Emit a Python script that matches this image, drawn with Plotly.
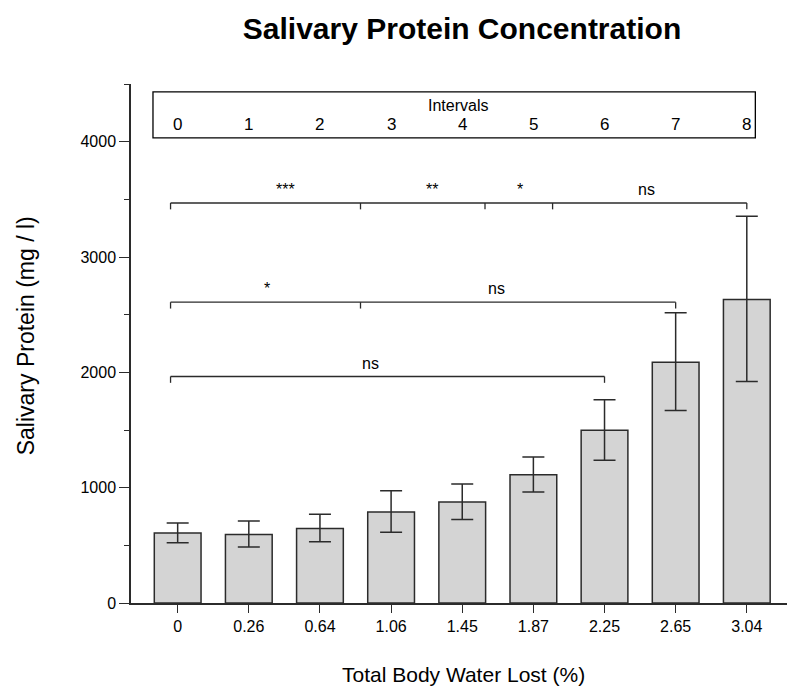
import plotly.graph_objects as go

# Total body water lost (%) at each sampling interval
tbw_lost = ["0", "0.26", "0.64", "1.06", "1.45", "1.87", "2.25", "2.65", "3.04"]
intervals = ["0", "1", "2", "3", "4", "5", "6", "7", "8"]

# Salivary protein (mg / l): mean with lower / upper error limits
protein_mean = [607, 595, 645, 789, 875, 1113, 1497, 2088, 2631]
protein_upper = [693, 711, 769, 974, 1031, 1265, 1763, 2516, 3354]
protein_lower = [523, 485, 532, 613, 723, 962, 1237, 1668, 1921]

# Significance brackets: level (mg / l), tick positions, labels with positions
bracket_levels = [3468, 2608, 1964]
bracket_ticks = [
    [-0.1, 2.57, 4.32, 5.27, 8.0],
    [-0.1, 2.57, 7.0],
    [-0.1, 6.0],
]
bracket_labels = [
    [("***", 1.52), ("**", 3.57), ("*", 4.81), ("ns", 6.59)],
    [("*", 1.25), ("ns", 4.48)],
    [("ns", 2.71)],
]

FONT = "Liberation Sans, Arial, sans-serif"
DARK = "#2b2b2b"
Y_TOP = 4500

xs = list(range(len(tbw_lost)))
err_plus = [u - m for u, m in zip(protein_upper, protein_mean)]
err_minus = [m - l for m, l in zip(protein_mean, protein_lower)]

fig = go.Figure()
fig.add_trace(go.Bar(
    x=xs, y=protein_mean, width=0.657,
    marker=dict(color="#d4d4d4", line=dict(color=DARK, width=1.5)),
    error_y=dict(type="data", symmetric=False, array=err_plus, arrayminus=err_minus,
                 color=DARK, thickness=1.5, width=11),
    showlegend=False,
))

shapes = []
annotations = []
tick_h = 55
for level, ticks, labels in zip(bracket_levels, bracket_ticks, bracket_labels):
    shapes.append(dict(type="line", xref="x", yref="y", x0=ticks[0], x1=ticks[-1],
                       y0=level, y1=level, line=dict(color=DARK, width=1.3)))
    for t in ticks:
        shapes.append(dict(type="line", xref="x", yref="y", x0=t, x1=t,
                           y0=level, y1=level - tick_h, line=dict(color=DARK, width=1.3)))
    for txt, xp in labels:
        annotations.append(dict(x=xp, y=level + 25, xref="x", yref="y", text=txt,
                                showarrow=False, yanchor="bottom",
                                font=dict(family=FONT, size=16, color="black")))

# Interval box above the bars
shapes.append(dict(type="rect", xref="x", yref="y", x0=-0.347, x1=8.12, y0=4033, y1=4431,
                   line=dict(color="black", width=1.3), fillcolor="rgba(0,0,0,0)"))
annotations.append(dict(x=3.94, y=4315, xref="x", yref="y", text="Intervals", showarrow=False,
                        font=dict(family=FONT, size=16, color="black")))
for i, lab in enumerate(intervals):
    annotations.append(dict(x=i, y=4150, xref="x", yref="y", text=lab, showarrow=False,
                            font=dict(family=FONT, size=17, color="black")))

# Axis titles
annotations.append(dict(x=-0.160, y=0.514, xref="paper", yref="paper", textangle=-90,
                        text="Salivary Protein (mg / l)", showarrow=False,
                        xanchor="center", yanchor="middle",
                        font=dict(family=FONT, size=23, color="black")))
annotations.append(dict(x=0.507, y=-0.138, xref="paper", yref="paper",
                        text="Total Body Water Lost (%)", showarrow=False,
                        xanchor="center", yanchor="middle",
                        font=dict(family=FONT, size=21, color="black")))

fig.update_layout(
    width=787, height=691,
    margin=dict(l=131, r=0, t=84, b=88),
    plot_bgcolor="white", paper_bgcolor="white",
    title=dict(text="<b>Salivary Protein Concentration</b>", x=462 / 787, xanchor="center",
               y=1 - 28 / 691, yanchor="middle", xref="container", yref="container",
               font=dict(family=FONT, size=30, color="black")),
    shapes=shapes, annotations=annotations,
    xaxis=dict(range=[-0.656, 8.565], tickmode="array", tickvals=xs, ticktext=tbw_lost,
               showline=True, linecolor=DARK, linewidth=1.5, ticks="outside", ticklen=8,
               tickcolor=DARK, tickwidth=1.3, showgrid=False, zeroline=False,
               tickfont=dict(family=FONT, size=16, color="black")),
    yaxis=dict(range=[0, Y_TOP], tickmode="array", tickvals=[0, 1000, 2000, 3000, 4000],
               showline=True, linecolor=DARK, linewidth=1.5, ticks="outside", ticklen=10,
               tickcolor=DARK, tickwidth=1.3, showgrid=False, zeroline=False,
               minor=dict(tickvals=[500, 1500, 2500, 3500, 4500], ticks="outside", ticklen=5,
                          tickcolor=DARK, tickwidth=1.3, showgrid=False),
               tickfont=dict(family=FONT, size=16, color="black")),
)

fig.write_html("out.html")
